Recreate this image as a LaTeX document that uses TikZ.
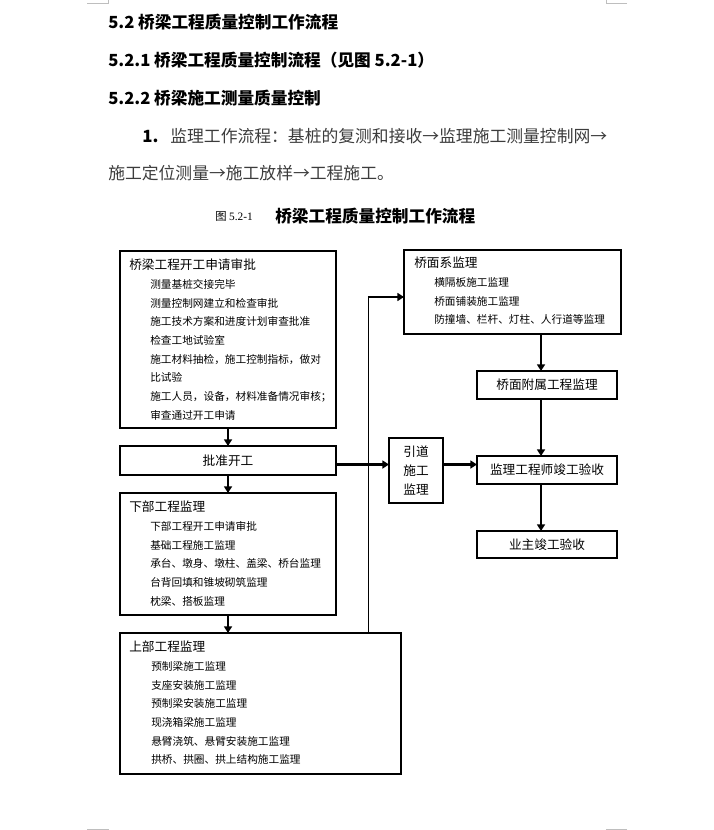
\documentclass[tikz,border=0pt]{standalone}
\usepackage{fontspec}
\setmainfont{Noto Sans CJK SC}
\newfontfamily\latinserif{Liberation Serif}
\usetikzlibrary{arrows.meta, positioning, calc}
\definecolor{MarkGray}{RGB}{190, 190, 190}
\definecolor{BodyGray}{RGB}{60, 60, 60}
\newcommand{\ttlfont}{\fontsize{9.5pt}{14pt}\selectfont}
\tikzset{
  blk/.style={rectangle, draw=black, line width=0.8pt, inner sep=0pt,
              outer sep=0pt, minimum width=#1},
  blk/.default=162pt,
  lst/.style={anchor=north west, inner sep=0pt, align=left,
              font=\fontsize{8pt}{14pt}\selectfont},
  lbl/.style={font=\fontsize{9.5pt}{14pt}\selectfont, align=center},
  arr/.style={-{Triangle[length=5pt, width=6pt]}, line width=1.6pt},
  hd/.style={anchor=west, inner sep=0pt, font=\fontsize{12.5pt}{14pt}\selectfont\bfseries},
  cornermark/.style={draw=MarkGray, line width=0.75pt},
}

\begin{document}
\begin{tikzpicture}[x=0.75pt, y=-0.75pt]
      \useasboundingbox (0,0) rectangle (713,830);
      % Page corner marks
      \draw[cornermark] (87,4) -- (108,4) -- (108,0);
      \draw[cornermark] (627,4) -- (606,4) -- (606,0);
      \draw[cornermark] (87,829) -- (108,829) -- (108,830);
      \draw[cornermark] (627,829) -- (606,829) -- (606,830);

      % Headings and text
      \node[hd] (h1) at (108,22) {5.2 桥梁工程质量控制工作流程};
      \node[hd] (h2) at (108,60) {5.2.1 桥梁工程质量控制流程（见图 5.2-1）};
      \node[hd] (h3) at (108,98) {5.2.2 桥梁施工测量质量控制};
      \node[anchor=west, inner sep=0pt, font=\fontsize{12.6pt}{14pt}\selectfont, text=BodyGray]
            (p1) at (142,136) {\textbf{\color{black}1.}\hspace{9pt}监理工作流程：基桩的复测和接收→监理施工测量控制网→};
      \node[anchor=west, inner sep=0pt, font=\fontsize{12.6pt}{14pt}\selectfont, text=BodyGray]
            (p2) at (108,173) {施工定位测量→施工放样→工程施工。};

      % Caption
      \node[anchor=west, inner sep=0pt, font=\fontsize{8.5pt}{10pt}\selectfont]
            (capnum) at (215,216) {图 {\latinserif 5.2-1}};
      \node[anchor=west, inner sep=0pt, font=\fontsize{12.5pt}{14pt}\selectfont\bfseries]
            (captxt) at (275,216) {桥梁工程质量控制工作流程};

      % Left column
      \node[blk, minimum height=132.75pt, anchor=north west] (apply) at (120,251) {};
      \node[lst] at ([shift={(6.75pt,-6pt)}]apply.north west)
            {{\ttlfont 桥梁工程开工申请审批}\\
             \hspace*{15.75pt}测量基桩交接完毕\\
             \hspace*{15.75pt}测量控制网建立和检查审批\\
             \hspace*{15.75pt}施工技术方案和进度计划审查批准\\
             \hspace*{15.75pt}检查工地试验室\\
             \hspace*{15.75pt}施工材料抽检，施工控制指标，做对\\
             \hspace*{15.75pt}比试验\\
             \hspace*{15.75pt}施工人员，设备，材料准备情况审核；\\
             \hspace*{15.75pt}审查通过开工申请};

      \node[blk, lbl, minimum height=21.75pt, below=13.5pt of apply] (approve) {批准开工};

      \node[blk, minimum height=91.5pt, below=13.5pt of approve] (sub) {};
      \node[lst] at ([shift={(6.75pt,-6pt)}]sub.north west)
            {{\ttlfont 下部工程监理}\\
             \hspace*{15.75pt}下部工程开工申请审批\\
             \hspace*{15.75pt}基础工程施工监理\\
             \hspace*{15.75pt}承台、墩身、墩柱、盖梁、桥台监理\\
             \hspace*{15.75pt}台背回填和锥坡砌筑监理\\
             \hspace*{15.75pt}枕梁、搭板监理};

      \node[blk=210.75pt, minimum height=105.75pt,
            below right=13.5pt and 0pt of sub.south west] (super) {};
      \node[lst] at ([shift={(6.75pt,-6pt)}]super.north west)
            {{\ttlfont 上部工程监理}\\
             \hspace*{16.5pt}预制梁施工监理\\
             \hspace*{16.5pt}支座安装施工监理\\
             \hspace*{16.5pt}预制梁安装施工监理\\
             \hspace*{16.5pt}现浇箱梁施工监理\\
             \hspace*{16.5pt}悬臂浇筑、悬臂安装施工监理\\
             \hspace*{16.5pt}拱桥、拱圈、拱上结构施工监理};

      % Right column
      \node[blk=162.75pt, minimum height=63pt, anchor=north west] (deck) at (404,250) {};
      \node[lst] at ([shift={(7.5pt,-5.25pt)}]deck.north west)
            {{\ttlfont 桥面系监理}\\
             \hspace*{15pt}横隔板施工监理\\
             \hspace*{15pt}桥面铺装施工监理\\
             \hspace*{15pt}防撞墙、栏杆、灯柱、人行道等监理};

      \node[blk=105pt, lbl, minimum height=21pt, anchor=north west] (attach) at (477,371) {桥面附属工程监理};
      \node[blk=105pt, lbl, minimum height=21pt, below=42.75pt of attach] (accept) {监理工程师竣工验收};
      \node[blk=105pt, lbl, minimum height=20.25pt, below=35.25pt of accept] (owner) {业主竣工验收};

      \node[blk=40.5pt, lbl, minimum height=48.75pt, anchor=north west] (yindao) at (389,438) {引道\\施工\\监理};

      % Connectors
      \coordinate (turn) at (368.5,297);
      \coordinate (lvl) at (0,464.5);
      \coordinate (col) at (541,0);

      \draw[arr] (apply.south) -- (approve.north);
      \draw[arr] (approve.south) -- (sub.north);
      \draw[arr] (sub.south) -- (sub.south |- super.north);

      \draw[line width=0.8pt] (super.north -| turn) -- (turn);
      \draw[arr] ([xshift=-0.4pt]turn) -- (turn -| deck.west);

      \draw[arr] (approve.east |- lvl) -- (yindao.west |- lvl);
      \draw[arr] (yindao.east |- lvl) -- (accept.west |- lvl);

      \draw[arr] (deck.south -| col) -- (attach.north -| col);
      \draw[arr] (attach.south -| col) -- (accept.north -| col);
      \draw[arr] (accept.south -| col) -- (owner.north -| col);
    \end{tikzpicture}
\end{document}
